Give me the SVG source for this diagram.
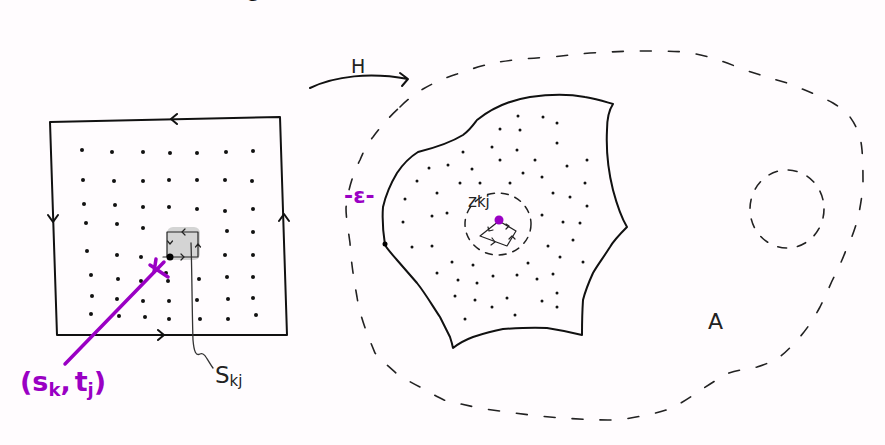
<svg xmlns="http://www.w3.org/2000/svg" width="885" height="445" viewBox="0 0 885 445">
<style>
.ink{fill:none;stroke:#111;stroke-width:2;stroke-linecap:round;stroke-linejoin:round}
.thin{fill:none;stroke:#222;stroke-width:1.2;stroke-linecap:round;stroke-linejoin:round}
.dash{fill:none;stroke:#222;stroke-width:1.6;stroke-linecap:round;stroke-dasharray:11 17}
.dashs{fill:none;stroke:#222;stroke-width:1.5;stroke-linecap:round;stroke-dasharray:7 7}
.dot{fill:#111}
.purple{fill:none;stroke:#9a00c4;stroke-width:3.5;stroke-linecap:round;stroke-linejoin:round}
.lab{font-family:"DejaVu Sans","Liberation Sans",sans-serif;fill:#222}
.plab{font-family:"DejaVu Sans","Liberation Sans",sans-serif;fill:#9a00c4;font-weight:bold}
</style>
<defs>
<circle id="d" r="1.5" class="dot"/>
<circle id="g" r="2" class="dot"/>
</defs>
<rect width="885" height="445" fill="#fffcfe"/>
<text x="247" y="-4" font-family="Liberation Serif,serif" font-size="24" fill="#111">g</text>

<g id="domain">
<path class="ink" d="M50,122 L280,117 L287,335 L57,335 Z"/>
<path class="ink" d="M177,114 L171,119 L177,124 M48,215 L53,222 L58,215 M279,221 L284,214 L289,221 M158,330 L164,335 L158,340"/>
<g id="grid">
<use href="#g" x="82" y="150"/><use href="#g" x="112" y="152"/><use href="#g" x="143" y="152"/><use href="#g" x="170" y="153"/><use href="#g" x="197" y="153"/><use href="#g" x="226" y="152"/><use href="#g" x="253" y="151"/>
<use href="#g" x="83" y="180"/><use href="#g" x="114" y="181"/><use href="#g" x="143" y="181"/><use href="#g" x="169" y="180"/><use href="#g" x="197" y="180"/><use href="#g" x="225" y="180"/><use href="#g" x="252" y="181"/>
<use href="#g" x="84" y="204"/><use href="#g" x="115" y="205"/><use href="#g" x="143" y="207"/><use href="#g" x="169" y="207"/><use href="#g" x="197" y="209"/><use href="#g" x="225" y="211"/><use href="#g" x="253" y="209"/>
<use href="#g" x="86" y="223"/><use href="#g" x="117" y="224"/><use href="#g" x="143" y="228"/><use href="#g" x="227" y="231"/><use href="#g" x="253" y="232"/>
<use href="#g" x="87" y="251"/><use href="#g" x="117" y="255"/><use href="#g" x="141" y="257"/><use href="#g" x="225" y="255"/><use href="#g" x="253" y="255"/>
<use href="#g" x="91" y="275"/><use href="#g" x="118" y="279"/><use href="#g" x="141" y="281"/><use href="#g" x="166" y="273"/><use href="#g" x="168" y="281"/><use href="#g" x="199" y="279"/><use href="#g" x="227" y="277"/><use href="#g" x="253" y="277"/>
<use href="#g" x="92" y="296"/><use href="#g" x="117" y="299"/><use href="#g" x="143" y="301"/><use href="#g" x="169" y="301"/><use href="#g" x="197" y="300"/><use href="#g" x="228" y="299"/><use href="#g" x="253" y="298"/>
<use href="#g" x="91" y="314"/><use href="#g" x="119" y="316"/><use href="#g" x="145" y="317"/><use href="#g" x="169" y="319"/><use href="#g" x="200" y="319"/><use href="#g" x="228" y="319"/><use href="#g" x="256" y="315"/>
</g>
</g>

<g id="cell">
<rect x="167" y="227" width="33" height="33" rx="6" fill="#d4d4d4"/>
<path class="thin" d="M167,232 L198,232 L198,257 M163,257 L198,257 M167,232 L167,257"/>
<path class="thin" d="M185,229 L182,232 L185,235 M167.5,241 L170,244 L172.5,241 M181,254 L184,257 L181,260 M195.5,247 L198,244 L200.5,247"/>
<circle cx="170" cy="257" r="3.5" fill="#000"/>
</g>

<g id="connectors">
<path class="purple" d="M65,364 L164,262"/>
<path class="purple" d="M150,265 L168,277 M156,259 L154,272"/>
<path fill="none" stroke="#333" stroke-width="1.3" stroke-linecap="round" d="M191,243 C192,270 192,310 193,340 C194,352 196,356 200,354 C205,352 207,360 213,368"/>
<path class="ink" d="M310,88 C335,76 370,72 408,79 M400,73 L408,79 L402,86"/>
</g>

<g id="label-st">
<text class="plab" x="20" y="391" font-size="27">(s<tspan font-size="18" dy="5">k</tspan><tspan dy="-5">,</tspan><tspan dx="4">t</tspan><tspan font-size="18" dy="5">j</tspan><tspan dy="-5">)</tspan></text>
</g>
<g id="label-skj">
<text class="lab" x="215" y="383" font-size="23">S<tspan font-size="15" dy="3">kj</tspan></text>
</g>
<g id="label-H">
<text class="lab" x="351" y="73" font-size="19">H</text>
</g>

<g id="region-A">
<path class="dash" d="M400,107 C410,97 418,92 423,89 C435,82 445,78 457,74 C470,69 482,66 493,63 C510,60 530,58 552,57 C570,55 580,54 590,53 C610,52 625,51 639,51 C660,51 672,51 685,52 C697,54 706,56 715,59 C725,62 735,66 745,70 C760,75 773,79 787,83 C805,90 820,96 833,103 C841,108 846,112 850,117 C858,128 861,138 862,150 C863,162 863,175 863,185 C862,197 860,208 858,218 C855,229 851,240 846,250 C842,261 837,271 832,281 C828,290 824,299 820,307 C813,320 805,332 797,340 C790,348 784,354 778,358 C771,362 764,365 757,367 C747,369 738,370 729,373 C719,378 710,384 701,390 C692,396 683,402 674,407 C665,411 656,413 646,415 C633,418 620,420 608,420 C592,420 577,419 562,418 C546,417 530,415 514,413 C502,411 490,410 479,408 C466,405 455,403 444,400 C436,396 428,392 420,387 C412,383 403,378 396,373 C388,366 381,360 375,353 C368,336 360,317 357,297 C354,280 351,262 350,243 C348,228 346,218 346,208 C348,188 354,172 360,160 C364,150 368,143 373,137 C382,125 391,115 400,107 Z"/>
<text class="lab" x="708" y="329" font-size="22">A</text>
</g>

<g id="hole">
<ellipse class="dash" cx="787" cy="209" rx="37" ry="39" style="stroke-dasharray:9 11"/>
</g>

<g id="image">
<path class="ink" d="M418,152 C430,149 450,143 463,135 C470,130 474,124 477,120 C487,112 505,101 530,97 C550,94 570,94 585,97 C598,99 606,102 613,104 C609,110 607,117 607,130 C606,150 608,170 613,190 C617,205 621,217 627,227 C620,234 614,240 610,247 C603,258 597,266 593,273 C588,284 585,292 583,300 C582,315 582,325 582,335 C570,332 560,330 547,328 C532,327 517,328 503,329 C492,331 482,334 473,337 C465,340 458,344 453,348 C452,343 451,340 450,337 C446,329 443,323 440,317 C432,305 425,293 417,283 C410,275 404,268 397,260 C392,254 388,250 385,245 C383,232 382,220 383,207 C386,194 391,183 397,173 C403,164 410,157 418,152 Z"/>
<circle cx="385" cy="244" r="2.5" fill="#000"/>
<g id="hexdots">
<use href="#d" x="518" y="116"/><use href="#d" x="543" y="117"/><use href="#d" x="557" y="123"/><use href="#d" x="500" y="129"/><use href="#d" x="520" y="130"/><use href="#d" x="557" y="143"/><use href="#d" x="492" y="147"/><use href="#d" x="463" y="152"/><use href="#d" x="517" y="150"/><use href="#d" x="500" y="160"/><use href="#d" x="535" y="160"/><use href="#d" x="587" y="160"/><use href="#d" x="567" y="166"/><use href="#d" x="429" y="168"/><use href="#d" x="448" y="165"/><use href="#d" x="472" y="169"/><use href="#d" x="523" y="173"/><use href="#d" x="542" y="177"/><use href="#d" x="417" y="181"/><use href="#d" x="460" y="183"/><use href="#d" x="480" y="183"/><use href="#d" x="510" y="183"/><use href="#d" x="585" y="183"/><use href="#d" x="437" y="193"/><use href="#d" x="553" y="193"/><use href="#d" x="570" y="197"/><use href="#d" x="405" y="199"/><use href="#d" x="587" y="206"/><use href="#d" x="432" y="216"/><use href="#d" x="447" y="213"/><use href="#d" x="542" y="215"/><use href="#d" x="563" y="222"/><use href="#d" x="403" y="222"/><use href="#d" x="580" y="223"/><use href="#d" x="573" y="240"/><use href="#d" x="412" y="247"/><use href="#d" x="432" y="246"/><use href="#d" x="548" y="246"/><use href="#d" x="452" y="262"/><use href="#d" x="473" y="265"/><use href="#d" x="528" y="263"/><use href="#d" x="560" y="257"/><use href="#d" x="583" y="262"/><use href="#d" x="437" y="273"/><use href="#d" x="458" y="280"/><use href="#d" x="477" y="283"/><use href="#d" x="493" y="276"/><use href="#d" x="517" y="275"/><use href="#d" x="553" y="274"/><use href="#d" x="537" y="279"/><use href="#d" x="455" y="296"/><use href="#d" x="475" y="300"/><use href="#d" x="507" y="298"/><use href="#d" x="542" y="301"/><use href="#d" x="557" y="293"/><use href="#d" x="557" y="307"/><use href="#d" x="492" y="307"/><use href="#d" x="515" y="315"/><use href="#d" x="465" y="319"/>
</g>
</g>

<g id="zkj">
<ellipse class="dashs" cx="498" cy="224" rx="33" ry="31"/>
<text class="lab" x="468" y="207" font-size="17">z<tspan font-size="15">kj</tspan></text>
<path class="thin" d="M499,221 L480,236 L507,246 L516,231 Z"/>
<path class="thin" d="M488,227 L489,231 L493,230 M492,238 L495,242 L491,245 M509,239 L512,236 L515,239 M506,224 L509,226 L506,229"/>
<circle cx="499" cy="220" r="4.5" fill="#9a00c4"/>
</g>

<g id="epsilon">
<text class="plab" x="344" y="203" font-size="22">-ε-</text>
</g>
</svg>
